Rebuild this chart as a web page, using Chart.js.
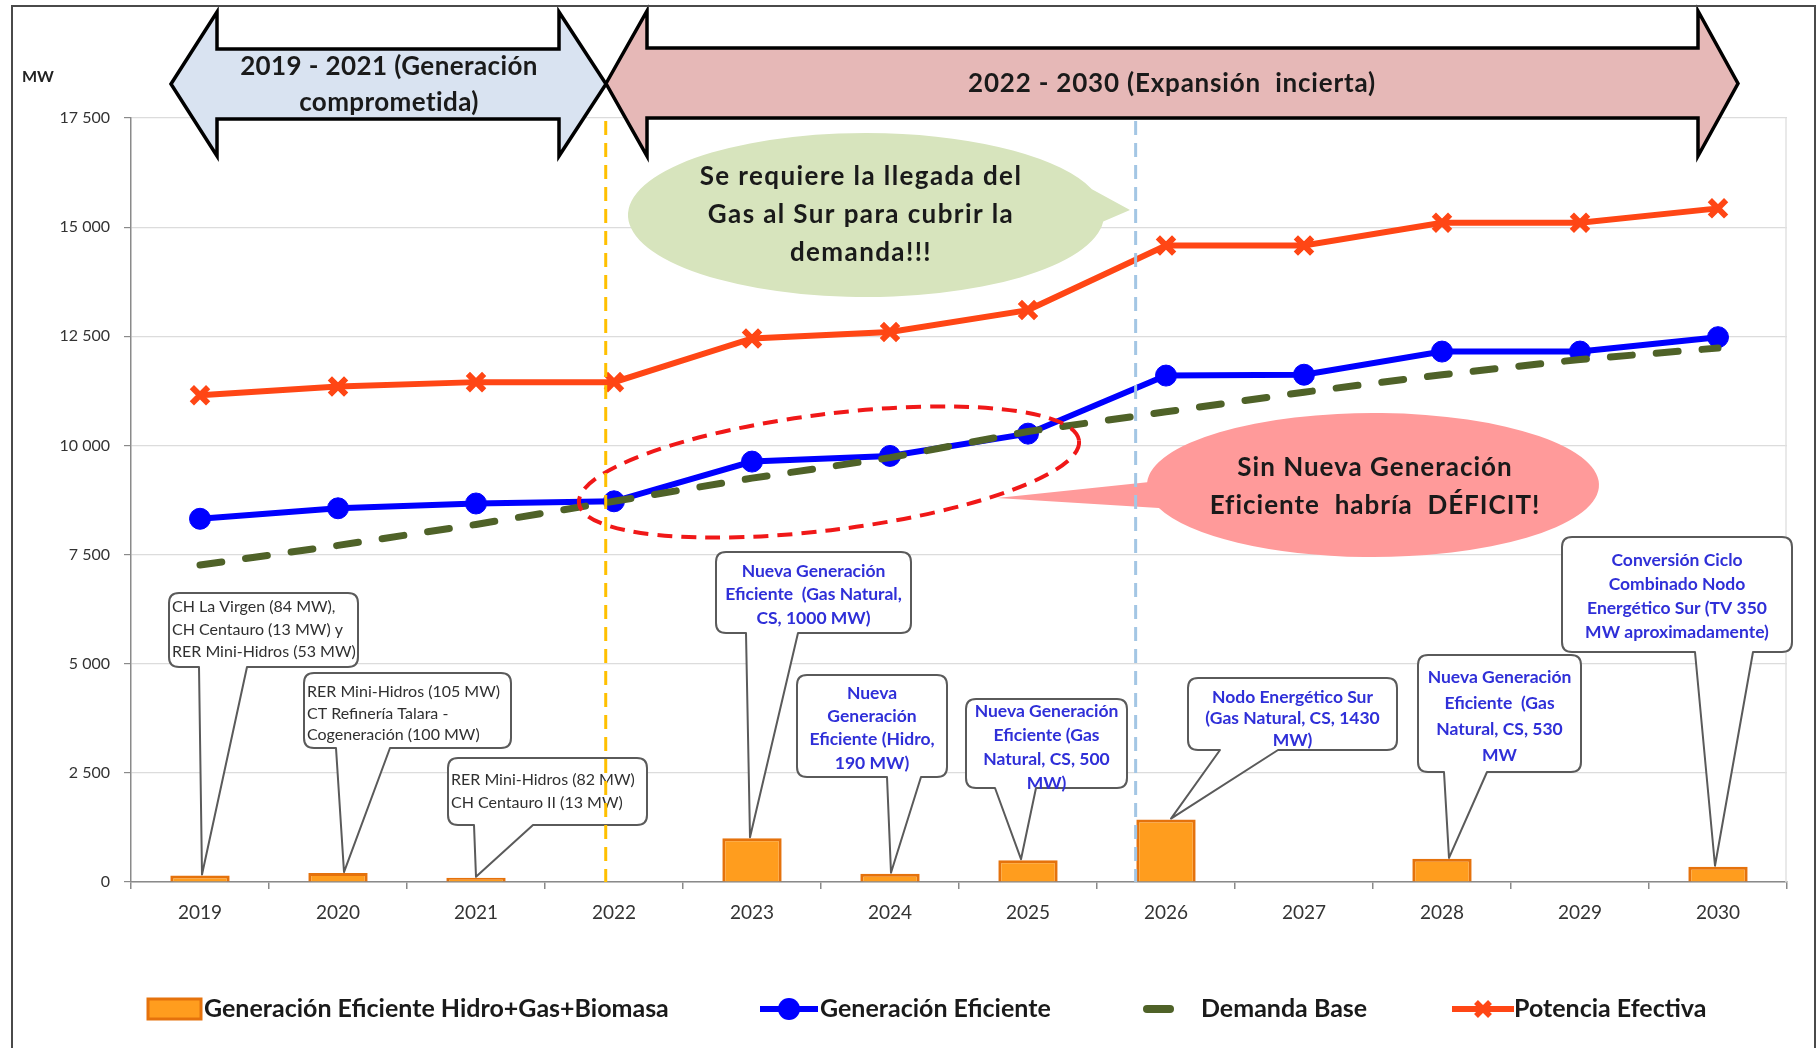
<!DOCTYPE html>
<html lang="es">
<head>
<meta charset="utf-8">
<title>Generación eficiente y demanda 2019 - 2030</title>
<script src="https://cdn.jsdelivr.net/npm/chart.js@4.4.1/dist/chart.umd.min.js"></script>
<style>
  html, body { margin: 0; padding: 0; background: #ffffff; }
  #wrap { position: relative; width: 1819px; height: 1048px; }
</style>
</head>
<body>
<div id="wrap"><canvas id="chart"></canvas></div>
<script>
// ---- data (MW) ----
const years = ['2019', '2020', '2021', '2022', '2023', '2024', '2025', '2026', '2027', '2028', '2029', '2030'];
const nuevaGeneracion = [150, 205, 95, null, 1000, 190, 500, 1430, null, 530, null, 350];
const generacionEficiente = [8320, 8560, 8670, 8720, 9630, 9760, 10270, 11600, 11620, 12150, 12150, 12480];
const demandaBase = [7260, 7710, 8190, 8720, 9250, 9720, 10320, 10770, 11220, 11620, 11970, 12230];
const potenciaEfectiva = [11150, 11350, 11450, 11450, 12450, 12600, 13100, 14580, 14580, 15100, 15100, 15430];
const yTickLabels = ['0', '2 500', '5 000', '7 500', '10 000', '12 500', '15 000', '17 500'];
const seriesNames = ['Generación Eficiente Hidro+Gas+Biomasa', 'Generación Eficiente', 'Demanda Base', 'Potencia Efectiva'];
const periodTexts = [['2019 - 2021 (Generación', 'comprometida)'], ['2022 - 2030 (Expansión  incierta)']];
const bubbleTexts = [
  ['Se requiere la llegada del', 'Gas al Sur para cubrir la', 'demanda!!!'],
  ['Sin Nueva Generación', 'Eficiente  habría  DÉFICIT!']
];
const noteTexts = [
  ['CH La Virgen (84 MW),', 'CH Centauro (13 MW) y', 'RER Mini-Hidros (53 MW)'],
  ['RER Mini-Hidros (105 MW)', 'CT Refinería Talara -', 'Cogeneración (100 MW)'],
  ['RER Mini-Hidros (82 MW)', 'CH Centauro II (13 MW)'],
  ['Nueva Generación', 'Eficiente  (Gas Natural,', 'CS, 1000 MW)'],
  ['Nueva', 'Generación', 'Eficiente (Hidro,', '190 MW)'],
  ['Nueva Generación', 'Eficiente (Gas', 'Natural, CS, 500', 'MW)'],
  ['Nodo Energético Sur', '(Gas Natural, CS, 1430', 'MW)'],
  ['Nueva Generación', 'Eficiente  (Gas', 'Natural, CS, 530', 'MW'],
  ['Conversión Ciclo', 'Combinado Nodo', 'Energético Sur (TV 350', 'MW aproximadamente)']
];
const noteYears = [0, 1, 2, 4, 5, 6, 7, 9, 11];

// ---- colours ----
const C = {
  barFill: '#FF9D1E', barEdge: '#E5720C',
  blue: '#0000FF', green: '#4F6228', red: '#FF4615',
  grid: '#DCDCDC', axis: '#8A8A8A', tickText: '#333333',
  text: '#1A1A1A', noteBlue: '#2F2FD8', noteDark: '#303030', noteEdge: '#5A5A5A'
};
const FONT = 'Lato, "Open Sans", sans-serif';

// ---- layout of the drawn notes (canvas pixels) ----
// box: [left, top, right, bottom]; wedge: base x on the bottom edge; dx: tip offset from bar centre
const noteLayout = [
  { box: [169, 593, 358, 667], wedge: [199, 247], dx: 2,  align: 'left', y0: 607, lh: 22.5 },
  { box: [304, 673, 511, 748], wedge: [336, 390], dx: 6,  align: 'left', y0: 692, lh: 21.5 },
  { box: [448, 758, 647, 825], wedge: [474, 533], dx: 0,  align: 'left', y0: 780, lh: 23 },
  { box: [716, 552, 911, 633], wedge: [746, 798], dx: -2, align: 'center', y0: 571, lh: 23.5 },
  { box: [797, 675, 947, 777], wedge: [887, 921], dx: 1,  align: 'center', y0: 693, lh: 23.3 },
  { box: [966, 699, 1127, 788], wedge: [995, 1036], dx: -7, align: 'center', y0: 711, lh: 24 },
  { box: [1188, 678, 1397, 750], wedge: [1220, 1278], dx: 5, align: 'center', y0: 697, lh: 21.5 },
  { box: [1418, 655, 1581, 772], wedge: [1444, 1487], dx: 7, align: 'center', y0: 677, lh: 26 },
  { box: [1562, 537, 1792, 652], wedge: [1695, 1753], dx: -3, align: 'center', y0: 560, lh: 24 }
];
// period separators, in category units
const separators = [{ at: 2.94, color: '#FFC000' }, { at: 6.78, color: '#A3C6E4' }];

function setSpacing(ctx, px) {
  if ('letterSpacing' in ctx) ctx.letterSpacing = px + 'px';
}

function roundedCallout(ctx, note, tipX, tipY) {
  const [l, t, r, b] = note.box, rad = 10;
  ctx.beginPath();
  ctx.moveTo(l + rad, t);
  ctx.lineTo(r - rad, t);
  ctx.quadraticCurveTo(r, t, r, t + rad);
  ctx.lineTo(r, b - rad);
  ctx.quadraticCurveTo(r, b, r - rad, b);
  ctx.lineTo(note.wedge[1], b);
  ctx.lineTo(tipX, tipY);
  ctx.lineTo(note.wedge[0], b);
  ctx.lineTo(l + rad, b);
  ctx.quadraticCurveTo(l, b, l, b - rad);
  ctx.lineTo(l, t + rad);
  ctx.quadraticCurveTo(l, t, l + rad, t);
  ctx.closePath();
  ctx.fillStyle = '#FFFFFF';
  ctx.fill();
  ctx.lineWidth = 2;
  ctx.strokeStyle = C.noteEdge;
  ctx.lineJoin = 'round';
  ctx.stroke();
}

function speechEllipse(ctx, cx, cy, rx, ry, a0, a1, tipX, tipY, fill) {
  ctx.beginPath();
  ctx.ellipse(cx, cy, rx, ry, 0, a0, a1, false);
  ctx.lineTo(tipX, tipY);
  ctx.closePath();
  ctx.fillStyle = fill;
  ctx.fill();
}

function doubleArrow(ctx, x0, hb0, hb1, x1, top, sTop, sBot, bot, fill) {
  const ym = (top + bot) / 2;
  ctx.beginPath();
  ctx.moveTo(x0, ym);
  ctx.lineTo(hb0, top); ctx.lineTo(hb0, sTop); ctx.lineTo(hb1, sTop); ctx.lineTo(hb1, top);
  ctx.lineTo(x1, ym);
  ctx.lineTo(hb1, bot); ctx.lineTo(hb1, sBot); ctx.lineTo(hb0, sBot); ctx.lineTo(hb0, bot);
  ctx.closePath();
  ctx.fillStyle = fill;
  ctx.fill();
  ctx.lineWidth = 3.5;
  ctx.strokeStyle = '#000000';
  ctx.lineJoin = 'miter';
  ctx.stroke();
}

function drawX(ctx, x, y, r, w, color) {
  ctx.save();
  ctx.strokeStyle = color;
  ctx.lineWidth = w;
  ctx.beginPath();
  ctx.moveTo(x - r, y - r); ctx.lineTo(x + r, y + r);
  ctx.moveTo(x + r, y - r); ctx.lineTo(x - r, y + r);
  ctx.stroke();
  ctx.restore();
}

const overlay = {
  id: 'overlay',
  afterDatasetsDraw(chart) {
    const { ctx, chartArea: a, scales: { x, y } } = chart;
    ctx.save();

    // light frame on the right of the plot
    ctx.strokeStyle = '#E2E2E2';
    ctx.lineWidth = 1.5;
    ctx.beginPath();
    ctx.moveTo(a.right - 1, a.top);
    ctx.lineTo(a.right - 1, a.bottom);
    ctx.stroke();

    // green speech bubble
    speechEllipse(ctx, 866, 215, 238, 82, 0.08, -0.32 + Math.PI * 2, 1130, 210, '#D7E4BD');
    // pink speech bubble
    speechEllipse(ctx, 1373, 485, 226, 72, 3.18, 2.816 + Math.PI * 2, 997, 498, '#FF9A9A');

    ctx.fillStyle = C.text;
    ctx.textAlign = 'center';
    ctx.textBaseline = 'middle';
    ctx.font = 'bold 26px ' + FONT;
    setSpacing(ctx, 1.4);
    [177, 215, 253].forEach((yy, i) => ctx.fillText(bubbleTexts[0][i], 861, yy));
    setSpacing(ctx, 1);
    [468, 506].forEach((yy, i) => ctx.fillText(bubbleTexts[1][i], 1375, yy));
    setSpacing(ctx, 0);

    // dashed ellipse around the 2022-2025 crossing
    ctx.save();
    ctx.beginPath();
    ctx.ellipse(829, 472, 252, 58, -0.125, 0, Math.PI * 2);
    ctx.setLineDash([15, 9]);
    ctx.lineWidth = 4;
    ctx.strokeStyle = '#F01818';
    ctx.stroke();
    ctx.restore();

    // callouts pointing at the bars
    noteLayout.forEach((note, k) => {
      const cat = noteYears[k];
      const tipX = x.getPixelForValue(cat) + note.dx;
      const tipY = y.getPixelForValue(nuevaGeneracion[cat]) - 1;
      roundedCallout(ctx, note, tipX, tipY);
      const lines = noteTexts[k];
      if (note.align === 'left') {
        ctx.font = '16px ' + FONT;
        ctx.fillStyle = C.noteDark;
        ctx.textAlign = 'left';
        lines.forEach((s, i) => ctx.fillText(s, note.box[0] + 3, note.y0 + i * note.lh));
      } else {
        ctx.font = 'bold 17.5px ' + FONT;
        ctx.fillStyle = C.noteBlue;
        ctx.textAlign = 'center';
        const cx = (note.box[0] + note.box[2]) / 2;
        lines.forEach((s, i) => ctx.fillText(s, cx, note.y0 + i * note.lh));
      }
    });

    // period separators
    separators.forEach(s => {
      const px = x.getPixelForValue(s.at);
      ctx.save();
      ctx.strokeStyle = s.color;
      ctx.lineWidth = 3;
      ctx.setLineDash([14, 8]);
      ctx.beginPath();
      ctx.moveTo(px, a.top + 3);
      ctx.lineTo(px, a.bottom);
      ctx.stroke();
      ctx.restore();
    });
    ctx.restore();
  },
  afterDraw(chart) {
    const { ctx } = chart;
    ctx.save();

    // period arrows
    doubleArrow(ctx, 171, 217, 559, 606, 12, 49, 119, 156, '#D9E3F1');
    doubleArrow(ctx, 606, 647, 1698, 1738, 11, 48, 118, 156, '#E6B8B7');
    ctx.fillStyle = C.text;
    ctx.textAlign = 'center';
    ctx.textBaseline = 'middle';
    ctx.font = 'bold 26px ' + FONT;
    setSpacing(ctx, 0.4);
    ctx.fillText(periodTexts[0][0], 389, 67);
    ctx.fillText(periodTexts[0][1], 389, 103);
    setSpacing(ctx, 0.8);
    ctx.fillText(periodTexts[1][0], 1172, 84);
    setSpacing(ctx, 0);

    // unit label
    ctx.font = 'bold 16px ' + FONT;
    ctx.textAlign = 'left';
    ctx.fillStyle = '#222222';
    ctx.fillText('MW', 22, 77);

    // legend
    const ly = 1009;
    ctx.font = 'bold 25px ' + FONT;
    ctx.textAlign = 'left';
    ctx.fillStyle = C.barFill;
    ctx.fillRect(148, 999, 53, 20);
    ctx.strokeStyle = C.barEdge;
    ctx.lineWidth = 3;
    ctx.strokeRect(148, 999, 53, 20);
    ctx.fillStyle = C.text;
    ctx.fillText(seriesNames[0], 204, ly);

    ctx.strokeStyle = C.blue;
    ctx.lineWidth = 6;
    ctx.beginPath(); ctx.moveTo(760, ly); ctx.lineTo(818, ly); ctx.stroke();
    ctx.fillStyle = C.blue;
    ctx.beginPath(); ctx.arc(789, ly, 11, 0, Math.PI * 2); ctx.fill();
    ctx.fillStyle = C.text;
    ctx.fillText(seriesNames[1], 820, ly);

    ctx.strokeStyle = C.green;
    ctx.lineWidth = 8;
    ctx.lineCap = 'round';
    ctx.beginPath(); ctx.moveTo(1147, ly); ctx.lineTo(1170, ly); ctx.stroke();
    ctx.lineCap = 'butt';
    ctx.fillText(seriesNames[2], 1201, ly);

    ctx.strokeStyle = C.red;
    ctx.lineWidth = 6;
    ctx.beginPath(); ctx.moveTo(1452, ly); ctx.lineTo(1514, ly); ctx.stroke();
    drawX(ctx, 1483, ly, 7, 5.5, C.red);
    ctx.fillStyle = C.text;
    ctx.fillText(seriesNames[3], 1514, ly);

    // outer frame
    ctx.strokeStyle = '#4A4A4A';
    ctx.lineWidth = 2;
    ctx.strokeRect(12, 6, 1803, 1060);
    ctx.restore();
  }
};

Chart.defaults.font.family = FONT;

new Chart(document.getElementById('chart'), {
  type: 'bar',
  data: {
    labels: years,
    datasets: [
      {
        type: 'line', label: seriesNames[3], data: potenciaEfectiva, order: 0,
        borderColor: C.red, borderWidth: 6, tension: 0,
        pointStyle: 'crossRot', pointRadius: 11.5, pointBorderWidth: 6,
        pointBorderColor: C.red, pointBackgroundColor: C.red
      },
      {
        type: 'line', label: seriesNames[2], data: demandaBase, order: 1,
        borderColor: C.green, borderWidth: 7, borderDash: [22, 24], borderCapStyle: 'round',
        tension: 0, pointRadius: 0
      },
      {
        type: 'line', label: seriesNames[1], data: generacionEficiente, order: 2,
        borderColor: C.blue, borderWidth: 6, tension: 0,
        pointStyle: 'circle', pointRadius: 10.5, pointBorderWidth: 1,
        pointBackgroundColor: C.blue, pointBorderColor: C.blue
      },
      {
        type: 'bar', label: seriesNames[0], data: nuevaGeneracion, order: 3,
        backgroundColor: C.barFill, borderColor: C.barEdge, borderWidth: 3,
        barPercentage: 0.43, categoryPercentage: 1
      }
    ]
  },
  options: {
    responsive: true,
    maintainAspectRatio: false,
    devicePixelRatio: 1,
    animation: false,
    events: [],
    layout: { padding: { top: 118, right: 32, bottom: 0, left: 0 } },
    plugins: { legend: { display: false }, tooltip: { enabled: false } },
    scales: {
      x: {
        grid: { offset: true, drawOnChartArea: false, drawTicks: true, tickLength: 7, tickColor: C.axis, lineWidth: 1.5 },
        border: { color: C.axis, width: 1.5 },
        ticks: { color: C.tickText, font: { size: 19 }, padding: 12, maxRotation: 0 },
        afterFit(scale) { scale.height = 166; }
      },
      y: {
        min: 0, max: 17500,
        grid: { color: C.grid, lineWidth: 1.2, tickColor: C.axis, tickLength: 7 },
        border: { color: C.axis, width: 1.5 },
        ticks: {
          stepSize: 2500, color: C.tickText, font: { size: 16 }, padding: 14,
          callback: (v, i) => yTickLabels[i]
        },
        afterFit(scale) { scale.width = 131; }
      }
    }
  },
  plugins: [overlay]
});
</script>
</body>
</html>
